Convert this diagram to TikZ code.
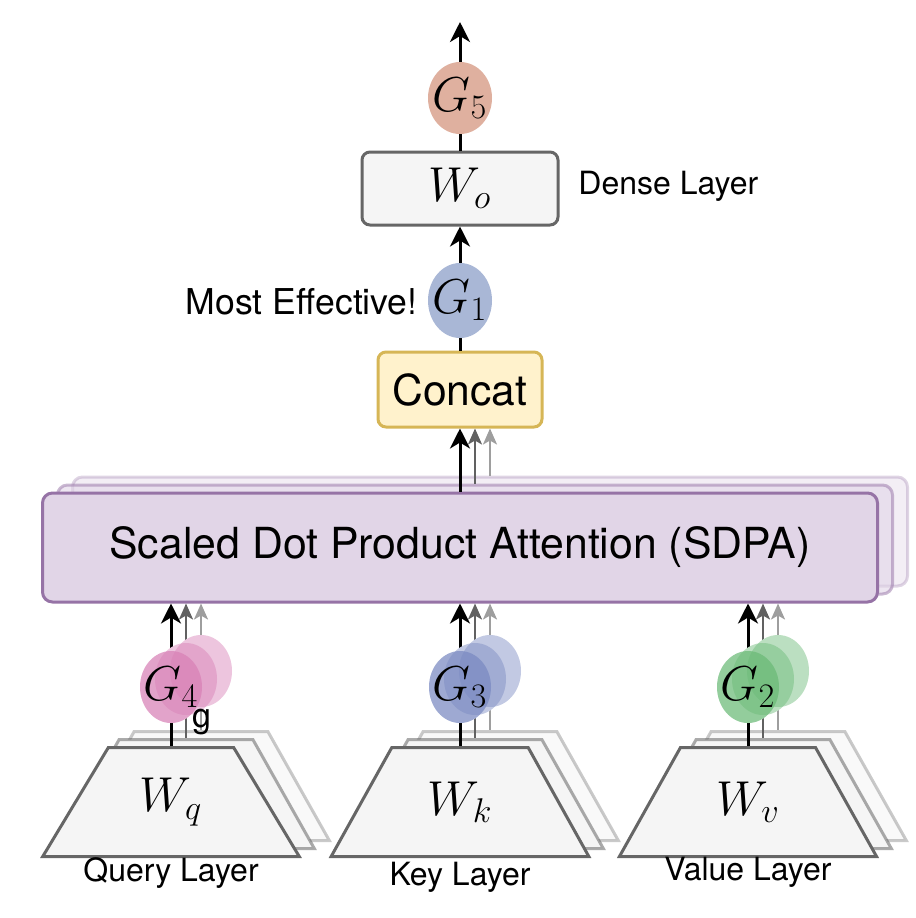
\RequirePackage{fix-cm}
\documentclass[tikz,border=0pt]{standalone}
\usepackage{fontspec}
\setmainfont{TeX Gyre Heros}
\usetikzlibrary{shapes.geometric,arrows.meta}
\definecolor{boxfill}{HTML}{F5F5F5}
\definecolor{boxline}{HTML}{666666}
\definecolor{pfill}{HTML}{E1D5E7}
\definecolor{pline}{HTML}{9673A6}
\definecolor{yfill}{HTML}{FFF2CC}
\definecolor{yline}{HTML}{D6B656}
\definecolor{gone}{HTML}{A9B7D6}
\definecolor{gfive}{HTML}{DFB09F}
\definecolor{gpink}{HTML}{D880B6}
\definecolor{gblue}{HTML}{7989C1}
\definecolor{ggreen}{HTML}{6ABA76}
\begin{document}
\begin{tikzpicture}[x=0.5pt,y=-0.5pt,
  arr/.style={line width=1.5pt,-{Stealth[length=10pt,width=10pt,inset=3pt]}},
  plain/.style={line width=1.5pt},
  ghostA/.style={line width=1.2pt,draw=black!62,-{Stealth[length=8pt,width=7pt,inset=2pt]}},
  ghostB/.style={line width=1.2pt,draw=black!38,-{Stealth[length=8pt,width=7pt,inset=2pt]}},
  trap/.style={trapezium,trapezium stretches=true,minimum width=129pt,minimum height=54.5pt,
    trapezium angle=56.4,draw=boxline,fill=boxfill,line width=1.5pt,inner sep=2pt,
    font=\fontsize{24.5}{28}\selectfont},
  trapA/.style={trap,draw opacity=0.55},
  trapB/.style={trap,draw opacity=0.35,fill=boxfill!60},
  sdpabox/.style={rectangle,rounded corners=5pt,minimum width=417.5pt,minimum height=54.5pt,
    draw=pline,fill=pfill,line width=1.5pt,inner sep=0pt,font=\fontsize{21.4}{24}\selectfont},
  gcirc/.style={ellipse,minimum width=31pt,minimum height=36pt,inner sep=0pt},
  mathlbl/.style={inner sep=0pt,font=\fontsize{24.5}{28}\selectfont},
  lbl/.style={inner sep=0pt,font=\fontsize{16}{19}\selectfont},
  gfill/.style={fill=#1,fill opacity=0.45,draw=none},
  gmain/.style={fill=#1,fill opacity=0.72,draw=none}
]
\useasboundingbox (0,0) rectangle (916,918);

% ---------- trapezoid layers ----------
\foreach \n/\x in {q/171,k/460,v/748}{
  \node[trapB] (\n B) at (\x+30,786) {\phantom{$W$}};
  \node[trapA] (\n A) at (\x+15,794) {\phantom{$W$}};
}
\node[trap] (q) at (171,802) {$W_q$};
\node[trap] (k) at (460,802) {$W_k$};
\node[trap] (v) at (748,802) {$W_v$};

\node[lbl] (qlbl) at (171,873) {Query Layer};
\node[lbl] (klbl) at (460,877) {Key Layer};
\node[lbl] (vlbl) at (748,872) {Value Layer};

% ---------- SDPA ----------
\node[sdpabox,draw opacity=0.3,fill opacity=0.4] (sdpaB) at (490,531.5) {};
\node[sdpabox,draw opacity=0.5,fill opacity=0.6] (sdpaA) at (475,539.5) {};
\node[sdpabox] (sdpa) at (460,547.5) {Scaled Dot Product Attention (SDPA)};

% ---------- arrows from layers to SDPA ----------
\foreach \n in {q,k,v}{
  \draw[ghostB] (\n B.north) -- (\n B.north |- sdpa.south);
  \draw[ghostA] (\n A.north) -- (\n A.north |- sdpa.south);
  \draw[arr] (\n.north) -- (\n.north |- sdpa.south);
}

% ---------- G circles on the input paths ----------
\foreach \n/\x/\c/\t in {q/171/gpink/4,k/460/gblue/3,v/748/ggreen/2}{
  \fill[white] (\x+30,671) ellipse (15.5pt and 18pt);
  \fill[white] (\x+15,679) ellipse (15.5pt and 18pt);
  \fill[white] (\x,687) ellipse (15.5pt and 18pt);
  \node[gcirc,gfill=\c] (g\n B) at (\x+30,671) {};
  \node[gcirc,gfill=\c] (g\n A) at (\x+15,679) {};
  \node[gcirc,gmain=\c] (g\n) at (\x,687) {};
  \node[mathlbl] (g\n t) at (g\n) {$G_{\t}$};
}
\node[inner sep=0pt,font=\fontsize{17}{20}\selectfont] (gq) at (202,722) {g};

% ---------- SDPA to Concat ----------
\node[rectangle,rounded corners=4pt,minimum width=82pt,minimum height=37.5pt,draw=yline,fill=yfill,
  line width=1.5pt,inner sep=0pt,font=\fontsize{21.3}{24}\selectfont] (concat) at (460,389.5) {Concat};
\draw[ghostB] (sdpaB.north) -- (sdpaB.north |- concat.south);
\draw[ghostA] (sdpaA.north) -- (sdpaA.north |- concat.south);
\draw[arr] (sdpa.north) -- (concat.south);

% ---------- G1 ----------
\node[gcirc,fill=gone,minimum width=32pt,minimum height=37.5pt] (g1) at (460,300.5) {};
\node[mathlbl] (g1t) at (g1) {$G_1$};
\node[inner sep=0pt,font=\fontsize{17.8}{21}\selectfont,anchor=east] (eff) at (418,302) {Most Effective!};
\draw[plain] (concat.north) -- (g1.south);

% ---------- Dense layer ----------
\node[rectangle,rounded corners=4pt,minimum width=98pt,minimum height=36.5pt,draw=boxline,fill=boxfill,
  line width=1.5pt,inner sep=0pt,font=\fontsize{24.5}{28}\selectfont] (wo) at (460,188.5) {$W_o$};
\node[lbl,anchor=west] (dense) at (578,186) {Dense Layer};
\draw[arr] (g1.north) -- (wo.south);

% ---------- G5 ----------
\node[gcirc,fill=gfive,minimum width=32pt,minimum height=36pt] (g5) at (460,98) {};
\node[mathlbl] (g5t) at (g5) {$G_5$};
\draw[plain] (wo.north) -- (g5.south);
\coordinate (out) at (460,22);
\draw[arr] (g5.north) -- (out);
\end{tikzpicture}
\end{document}
